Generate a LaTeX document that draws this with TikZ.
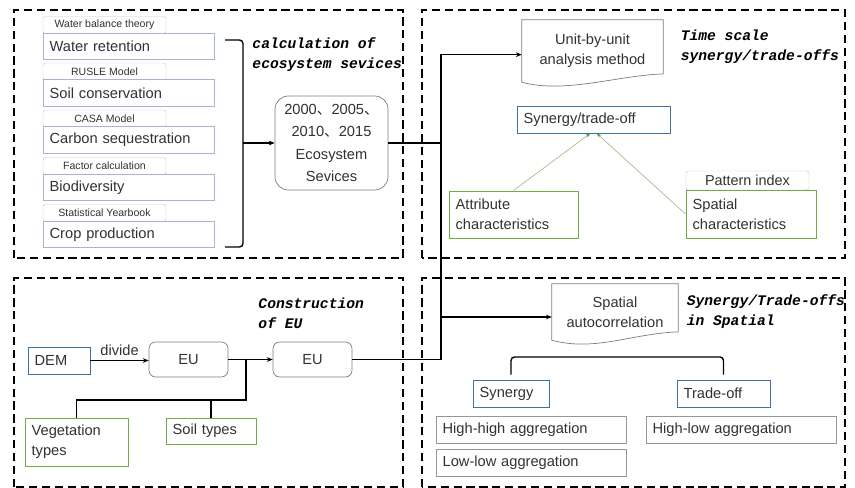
\documentclass[tikz,border=0pt]{standalone}
\usepackage{fontspec}
\setmainfont{Liberation Sans}
\setmonofont{Liberation Mono}
\newfontfamily\cjk{Noto Sans CJK SC}
\usetikzlibrary{arrows.meta, positioning}

\definecolor{boxblue}{RGB}{65,113,156}
\definecolor{boxgreen}{RGB}{112,173,71}
\definecolor{listblue}{RGB}{165,182,206}
\definecolor{tabgray}{RGB}{200,200,200}
\definecolor{boxgray}{RGB}{150,150,150}
\definecolor{roundgray}{RGB}{125,125,125}
\definecolor{linkgreen}{RGB}{170,188,140}
\definecolor{tipgreen}{RGB}{84,150,50}
\definecolor{txtgray}{RGB}{50,50,50}

\tikzset{
  panel/.style={line width=1.3pt, dash pattern=on 7pt off 4pt},
  boxtext/.style={font=\fontsize{12.5}{17}\selectfont, text=txtgray},
  leftbox/.style={boxtext, fill=white, inner xsep=0.2cm, align=left, text width=#1},
  listbox/.style={leftbox=4.73cm, draw=listblue, semithick, minimum height=0.8cm},
  tabbox/.style={draw=tabgray, fill=white, rounded corners=2pt, minimum width=3.69cm,
    minimum height=0.51cm, inner sep=1pt, font=\fontsize{9}{10}\selectfont, text=txtgray},
  greenbox/.style={leftbox=#1, draw=boxgreen, thick},
  bluebox/.style={leftbox=#1, draw=boxblue, thick, minimum height=0.81cm},
  graybox/.style={leftbox=5.3cm, draw=boxgray, semithick, minimum height=0.81cm},
  roundbox/.style={boxtext, draw=roundgray, semithick, fill=white, rounded corners=#1, align=center},
  docbox/.style={boxtext, align=center},
  docline/.style={draw=roundgray, semithick},
  paneltitle/.style={font=\fontsize{12.5}{17}\selectfont\ttfamily\itshape\bfseries, align=left, anchor=west},
  link/.style={line width=1.2pt},
  arr/.style={link, -{Stealth[length=5pt,width=4pt]}},
  softarr/.style={draw=linkgreen, semithick, -{Stealth[length=4pt,width=3pt,color=tipgreen]}},
}

% outline of a document shape round a node
\newcommand{\docoutline}[1]{%
  \draw[docline] ([yshift=0.25cm]#1.south east) -- (#1.north east) -- (#1.north west) -- (#1.south west)
    .. controls ([xshift=1.3cm,yshift=-0.35cm]#1.south west) and ([xshift=-1.4cm,yshift=0.2cm]#1.south east) .. ([yshift=0.25cm]#1.south east);}

\begin{document}
\begin{tikzpicture}

    \useasboundingbox (0,0) rectangle (25.65cm,14.64cm);

    % Panels
    \draw[panel] (0.42cm,6.9cm) rectangle (12.09cm,14.34cm);
    \draw[panel] (12.66cm,6.9cm) rectangle (25.35cm,14.34cm);
    \draw[panel] (0.42cm,0.03cm) rectangle (12.09cm,6.3cm);
    \draw[panel] (12.66cm,0.03cm) rectangle (25.35cm,6.3cm);

    % Ecosystem services
    \node[tabbox] (tabwater) at (3.135cm,13.89cm) {Water balance theory};
    \node[listbox] (water) at (3.855cm,13.245cm) {Water retention};
    \node[tabbox] (tabrusle) at (3.135cm,12.495cm) {RUSLE Model};
    \node[listbox] (soilcons) at (3.855cm,11.85cm) {Soil conservation};
    \node[tabbox] (tabcasa) at (3.135cm,11.085cm) {CASA Model};
    \node[listbox] (carbon) at (3.855cm,10.44cm) {Carbon sequestration};
    \node[tabbox] (tabfactor) at (3.135cm,9.66cm) {Factor calculation};
    \node[listbox] (bio) at (3.855cm,9.015cm) {Biodiversity};
    \node[tabbox] (tabstat) at (3.135cm,8.25cm) {Statistical Yearbook};
    \node[listbox] (crop) at (3.855cm,7.605cm) {Crop production};

    \node[paneltitle] (titleeco) at (7.45cm,12.99cm) {calculation of\\ecosystem sevices};

    \node[roundbox=0.4cm, minimum width=3.39cm, minimum height=2.82cm, font=\fontsize{12.5}{19}\selectfont]
        (eco) at (9.945cm,10.35cm)
        {2000{\cjk 、}2005{\cjk 、}\\2010{\cjk 、}2015\\Ecosystem\\Sevices};

    \coordinate (brtop) at (6.75cm,13.44cm);
    \coordinate (brmid) at (7.29cm,10.35cm);
    \coordinate (brbot) at (6.75cm,7.23cm);
    \draw[link, rounded corners=3pt] (brtop) -| (brmid) |- (brbot);
    \draw[arr] (brmid) -- (eco);

    % Time scale
    \node[docbox, minimum width=4.23cm, minimum height=1.86cm] (unit) at (17.775cm,13.11cm)
        {Unit-by-unit\\analysis method};
    \docoutline{unit}
    \node[paneltitle] (titletime) at (20.3cm,13.23cm) {Time scale\\synergy/trade-offs};

    \node[bluebox=4.19cm] (st) at (17.805cm,11.055cm) {Synergy/trade-off};
    \node[greenbox=3.47cm, minimum height=1.41cm] (attr) at (15.405cm,8.205cm)
        {Attribute\\characteristics};
    \node[tabbox, rounded corners=2pt, font=\fontsize{12.3}{14}\selectfont, minimum height=0.57cm]
        (tabpattern) at (22.425cm,9.225cm) {Pattern index};
    \node[greenbox=3.5cm, minimum height=1.44cm] (spat) at (22.53cm,8.22cm)
        {Spatial\\characteristics};
    \draw[softarr] (attr.north) -- ([xshift=-0.1cm]st.south);
    \draw[softarr] (spat.west) -- ([xshift=0.1cm]st.south);

    % Construction of EU
    \node[paneltitle] (titleeu) at (7.63cm,5.25cm) {Construction\\of EU};
    \node[bluebox=1.46cm] (dem) at (1.77cm,3.825cm) {DEM};
    \node[roundbox=0.2cm, minimum width=2.37cm, minimum height=1.05cm] (eu1) at (5.655cm,3.855cm) {EU};
    \node[roundbox=0.2cm, minimum width=2.37cm, minimum height=1.05cm] (eu2) at (9.375cm,3.855cm) {EU};
    \node[greenbox=2.69cm, minimum height=1.44cm] (veg) at (2.295cm,1.38cm) {Vegetation\\types};
    \node[greenbox=2.3cm, minimum height=0.78cm] (soil) at (6.33cm,1.71cm) {Soil types};

    \draw[arr] (dem.east) -- node[boxtext, above] {divide} (dem.east -| eu1.west);
    \draw[arr] (eu1) -- (eu2);
    \coordinate (eujoin) at (7.38cm,3.855cm);
    \coordinate (euground) at (7.38cm,2.64cm);
    \draw[link] (veg.north) |- (euground) -- (eujoin);
    \draw[link] (soil.north) -- (soil.north |- euground);

    % Spatial
    \node[docbox, minimum width=3.78cm, minimum height=1.68cm] (auto) at (18.45cm,5.28cm)
        {Spatial\\autocorrelation};
    \docoutline{auto}
    \node[paneltitle] (titlespace) at (20.48cm,5.28cm) {Synergy/Trade-offs\\in Spatial};

    \node[bluebox=1.88cm] (syn) at (15.33cm,2.835cm) {Synergy};
    \node[bluebox=2.39cm] (trd) at (21.705cm,2.835cm) {Trade-off};
    \node[graybox] (hh) at (15.93cm,1.755cm) {High-high aggregation};
    \node[graybox] (ll) at (15.93cm,0.765cm) {Low-low aggregation};
    \node[graybox] (hl) at (22.23cm,1.755cm) {High-low aggregation};

    \coordinate (brk) at (18.5cm,3.93cm);
    \draw[link, rounded corners=3pt] ([yshift=0.15cm]syn.north) |- (brk) -| ([yshift=0.15cm]trd.north);

    % Links between panels
    \coordinate (hubtop) at (13.23cm,13.0cm);
    \coordinate (hubmid) at (13.23cm,5.13cm);
    \draw[link] (eco.east) -- (eco.east -| hubtop);
    \draw[arr] (eu2.east) -| (hubtop) -- (hubtop -| unit.west);
    \draw[arr] (hubmid) -- (hubmid -| auto.west);

\end{tikzpicture}
\end{document}
